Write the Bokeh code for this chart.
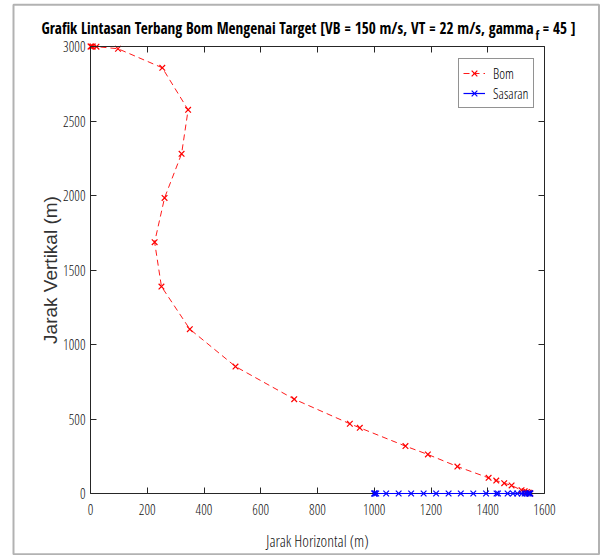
from math import pi

from bokeh.embed import file_html
from bokeh.models import BoxAnnotation, FixedTicker, Label, LinearAxis, Range1d
from bokeh.plotting import figure
from bokeh.resources import INLINE

# Bomb trajectory (m)
bom_x = [0, 3, 8, 21, 97, 253, 344, 321, 261, 226, 250, 350, 511, 718, 914, 949,
         1110, 1189, 1293, 1403, 1430, 1458, 1484, 1519, 1530, 1538, 1544, 1548, 1550]
bom_y = [3000, 3000, 3000, 2999, 2985, 2857, 2575, 2280, 1984, 1687, 1389, 1103, 852,
         633, 468, 441, 318, 262, 181, 105, 87, 69, 54, 22, 15, 10, 6, 3, 0]

# Target track on the ground (m)
sasaran_x = [1000, 1001, 1002, 1007, 1042, 1086, 1130, 1174, 1218, 1262, 1305, 1349,
             1394, 1431, 1436, 1470, 1489, 1504, 1520, 1530, 1537, 1543, 1547, 1549, 1550]
sasaran_y = [0] * len(sasaran_x)

x_ticks = [0, 200, 400, 600, 800, 1000, 1200, 1400, 1600]
y_ticks = [0, 500, 1000, 1500, 2000, 2500, 3000]
x_lim = (0, 1600)
y_lim = (0, 3000)

NARROW = "Open Sans Condensed Light"
REGULAR = "Liberation Sans"
TITLE_FONT = "Open Sans Condensed"
AXIS_COLOR = "#262626"
TEXT_COLOR = "#111111"

# The plotting frame covers the whole canvas; the axes box sits inside it.
W, H = 601, 555
BOX_L, BOX_R, BOX_T, BOX_B = 90, 544, 46, 493

ux = (x_lim[1] - x_lim[0]) / (BOX_R - BOX_L)
uy = (y_lim[1] - y_lim[0]) / (BOX_B - BOX_T)

p = figure(
    width=W, height=H,
    output_backend="svg", toolbar_location=None,
    x_axis_type=None, y_axis_type=None,
    x_range=Range1d(x_lim[0] - BOX_L * ux, x_lim[1] + (W - BOX_R) * ux),
    y_range=Range1d(y_lim[0] - (H - BOX_B) * uy, y_lim[1] + BOX_T * uy),
    min_border=0,
    background_fill_color="white", border_fill_color="white",
)
p.outline_line_color = None
p.title = None


def style_axis(ax, labels=True):
    ax.axis_line_color = AXIS_COLOR
    ax.axis_line_width = 1
    ax.major_tick_line_color = AXIS_COLOR
    ax.minor_tick_line_color = None
    ax.major_tick_in = 6
    ax.major_tick_out = 0
    ax.major_label_text_font = NARROW
    ax.major_label_text_font_size = "14px"
    ax.major_label_text_color = TEXT_COLOR if labels else None


ax_bottom = LinearAxis(fixed_location=y_lim[0], bounds=x_lim, ticker=FixedTicker(ticks=x_ticks))
style_axis(ax_bottom)
ax_bottom.major_label_standoff = 10
p.add_layout(ax_bottom, "below")

ax_top = LinearAxis(fixed_location=y_lim[1], bounds=x_lim, ticker=FixedTicker(ticks=x_ticks))
style_axis(ax_top, labels=False)
p.add_layout(ax_top, "above")

ax_left = LinearAxis(fixed_location=x_lim[0], bounds=y_lim, ticker=FixedTicker(ticks=y_ticks))
style_axis(ax_left)
ax_left.major_label_standoff = 5
p.add_layout(ax_left, "left")

ax_right = LinearAxis(fixed_location=x_lim[1], bounds=y_lim, ticker=FixedTicker(ticks=y_ticks))
style_axis(ax_right, labels=False)
p.add_layout(ax_right, "right")

# Bomb: red dashed line with x markers
p.line(bom_x, bom_y, line_color="red", line_dash="6 4", line_width=0.9, legend_label="Bom")
p.scatter(bom_x, bom_y, marker="x", size=8, line_color="red", line_width=1.2, legend_label="Bom")

# Target: blue solid line with x markers, drawn above the axis line
p.line(sasaran_x, sasaran_y, line_color="blue", line_width=1.2, legend_label="Sasaran",
       level="overlay")
p.scatter(sasaran_x, sasaran_y, marker="x", size=8, line_color="blue", line_width=1.2,
          legend_label="Sasaran", level="overlay")

leg = p.legend[0]
leg.location = (458, H - 108)
leg.border_line_color = AXIS_COLOR
leg.border_line_width = 1
leg.background_fill_color = "white"
leg.background_fill_alpha = 1
leg.label_text_font = NARROW
leg.label_text_font_size = "14px"
leg.label_text_color = "black"
leg.glyph_width = 22
leg.glyph_height = 20
leg.label_height = 20
leg.spacing = 0
leg.padding = 4
leg.margin = 0
leg.label_standoff = 8


def sy(py):
    return H - py


# Title, with a subscript f after "gamma"
p.add_layout(Label(
    x=533, y=sy(27), x_units="screen", y_units="screen",
    text="Grafik Lintasan Terbang Bom Mengenai Target [VB = 150 m/s, VT = 22 m/s, gamma",
    text_font=TITLE_FONT, text_font_style="bold", text_font_size="15.2px",
    text_align="right", text_baseline="alphabetic", text_color="black"))
p.add_layout(Label(
    x=535, y=sy(35), x_units="screen", y_units="screen", text="f",
    text_font=TITLE_FONT, text_font_style="bold", text_font_size="12px",
    text_align="left", text_baseline="alphabetic", text_color="black"))
p.add_layout(Label(
    x=542, y=sy(27), x_units="screen", y_units="screen", text="= 45 ]",
    text_font=TITLE_FONT, text_font_style="bold", text_font_size="15.2px",
    text_align="left", text_baseline="alphabetic", text_color="black"))

# Axis titles
p.add_layout(Label(
    x=(BOX_L + BOX_R) / 2, y=sy(540), x_units="screen", y_units="screen",
    text="Jarak Horizontal (m)", text_font=NARROW, text_font_size="16px",
    text_align="center", text_baseline="middle", text_color=TEXT_COLOR))
p.add_layout(Label(
    x=50, y=sy((BOX_T + BOX_B) / 2), x_units="screen", y_units="screen",
    text="Jarak Vertikal (m)", text_font=REGULAR, text_font_size="19px", angle=pi / 2,
    text_align="center", text_baseline="middle", text_color="#333333"))

# Figure border
p.add_layout(BoxAnnotation(
    left=13, right=598.5, top=sy(4.3), bottom=sy(553.7),
    left_units="screen", right_units="screen", top_units="screen", bottom_units="screen",
    fill_alpha=0, line_color="black", line_width=2, level="overlay"))

open("out.html", "w").write(file_html(p, INLINE))
